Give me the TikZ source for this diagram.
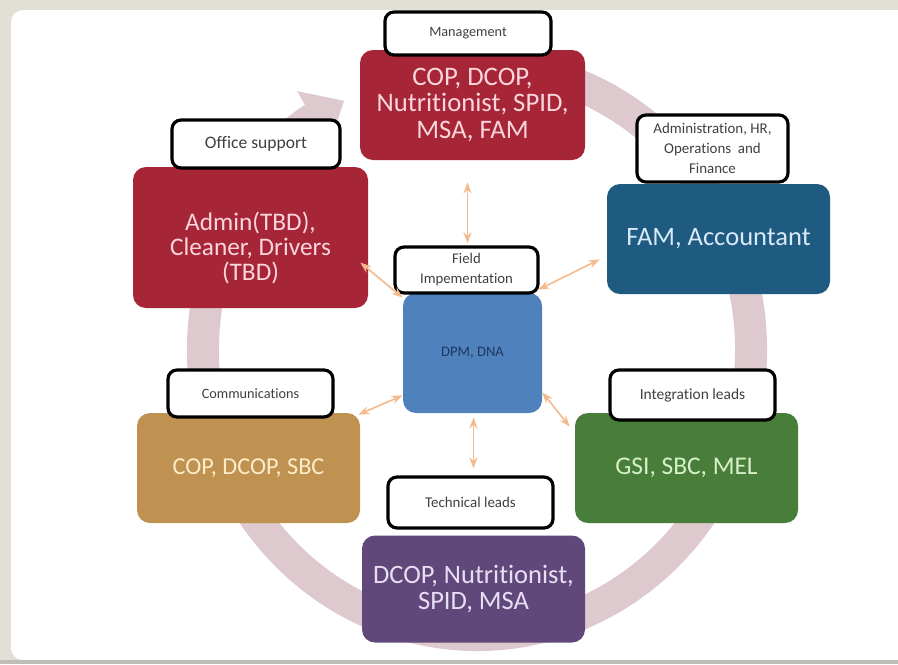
\documentclass[tikz,border=0pt]{standalone}
\usepackage{fontspec}
\setmainfont{Carlito}[Ligatures=NoCommon]
\usetikzlibrary{arrows.meta,calc}
\newlength\pxu
\setlength\pxu{0.02cm}

\definecolor{framebg}{RGB}{226,224,214}
\definecolor{frameline}{RGB}{190,190,182}
\definecolor{ringcol}{RGB}{221,201,206}
\definecolor{redbox}{RGB}{166,37,54}
\definecolor{redtxt}{RGB}{250,214,220}
\definecolor{bluebox}{RGB}{31,90,128}
\definecolor{bluetxt}{RGB}{214,234,248}
\definecolor{dpmbox}{RGB}{79,129,189}
\definecolor{dpmtxt}{RGB}{31,56,100}
\definecolor{tanbox}{RGB}{191,146,82}
\definecolor{tantxt}{RGB}{253,236,200}
\definecolor{greenbox}{RGB}{72,125,58}
\definecolor{greentxt}{RGB}{214,240,200}
\definecolor{purplebox}{RGB}{96,73,122}
\definecolor{purpletxt}{RGB}{232,222,244}
\definecolor{conncol}{RGB}{245,186,140}
\definecolor{labtxt}{RGB}{64,64,64}

\newcommand\rolefont[1]{\fontsize{#1}{14.4}\selectfont}
\newcommand\tagfont[1]{\fontsize{#1}{11.4}\selectfont}

\tikzset{
  rolebox/.style={draw=none, rounded corners=13\pxu, align=center,
    inner sep=0pt},
  tagbox/.style={draw=black, fill=white, line width=3.2\pxu,
    rounded corners=9\pxu, align=center, inner sep=0pt,
    text=labtxt, font=\tagfont{8.5}},
  link/.style={draw=conncol, line width=0.9pt,
    {Stealth[length=6.3pt,width=4.6pt]}-{Stealth[length=6.3pt,width=4.6pt]}},
  cycle ring/.style={draw=ringcol, line width=18.2pt,
    -{Triangle[length=20.5pt,width=35pt]}}
}

\begin{document}
\begin{tikzpicture}[x=1\pxu, y=-1\pxu]
\useasboundingbox (0,0) rectangle (898,664);

% slide frame
\fill[framebg] (0,0) rectangle (898,664);
\fill[white, rounded corners=12\pxu] (11,10) rectangle (930,660);
\fill[frameline] (0,660) rectangle (898,664);

% circular flow ring behind the boxes
\draw[cycle ring] (477,350) ++(-80:274 and 285)
  arc[start angle=-80, end angle=241, x radius=274, y radius=285];

% role boxes
\node[rolebox, fill=redbox, text=redtxt, font=\fontsize{15.2}{15}\selectfont,
  minimum width=225\pxu, minimum height=110\pxu]
  (mgmt) at (472.5,105) {COP, DCOP,\\Nutritionist, SPID,\\MSA, FAM};
\node[rolebox, fill=redbox, minimum width=235\pxu, minimum height=141\pxu]
  (admin) at (250.5,237.5) {};
\node[align=center, inner sep=0pt, text=redtxt, font=\rolefont{14.4}]
  (admintxt) at (250.5,248) {Admin(TBD),\\Cleaner, Drivers\\(TBD)};
\node[rolebox, fill=bluebox, text=bluetxt, font=\rolefont{15.1},
  minimum width=223\pxu, minimum height=110\pxu]
  (fam) at (718.5,239) {FAM, Accountant};
\node[rolebox, fill=dpmbox, text=dpmtxt, font=\fontsize{8.3}{10}\selectfont,
  minimum width=139\pxu, minimum height=120\pxu]
  (dpm) at (472.5,353) {DPM, DNA};
\node[rolebox, fill=tanbox, text=tantxt, font=\rolefont{13.8},
  minimum width=223\pxu, minimum height=110\pxu]
  (comm) at (248.5,468) {COP, DCOP, SBC};
\node[rolebox, fill=greenbox, text=greentxt, font=\rolefont{14.5},
  minimum width=223\pxu, minimum height=110\pxu]
  (integ) at (686.5,468) {GSI, SBC, MEL};
\node[rolebox, fill=purplebox, text=purpletxt, font=\rolefont{15.1},
  minimum width=223\pxu, minimum height=107\pxu]
  (tech) at (473.5,589) {DCOP, Nutritionist,\\SPID, MSA};

% tags
\node[tagbox, font=\tagfont{8.1}, minimum width=166\pxu, minimum height=43\pxu]
  (mgmtlab) at (468,33.5) {Management};
\node[tagbox, font=\tagfont{10}, minimum width=168\pxu, minimum height=48\pxu]
  (adminlab) at (256,144) {Office support};
\node[tagbox, minimum width=151\pxu, minimum height=67\pxu]
  (famlab) at (712.5,148.5) {Administration, HR,\\Operations\ \ and\\Finance};
\node[tagbox, font=\tagfont{8.4}, minimum width=143\pxu, minimum height=46\pxu]
  (dpmlab) at (466.5,270) {Field\\Impementation};
\node[tagbox, font=\tagfont{8.1}, minimum width=165\pxu, minimum height=47\pxu]
  (commlab) at (250.5,393.5) {Communications};
\node[tagbox, font=\tagfont{8.8}, minimum width=165\pxu, minimum height=50\pxu]
  (integlab) at (692.5,395) {Integration leads};
\node[tagbox, font=\tagfont{8.5}, minimum width=165\pxu, minimum height=51\pxu]
  (techlab) at (470.5,502.5) {Technical leads};

% links between the field team and the other groups
\draw[link] ([shift={(-5,22)}]mgmt.south) -- ([shift={(1,-2)}]dpmlab.north);
\draw[link] ([shift={(-8,25)}]admin.east) -- ([shift={(0,5)}]dpm.north west);
\draw[link] ([shift={(-7,-35)}]fam.south west) -- ([shift={(-4,-3)}]dpm.north east);
\draw[link] ([shift={(-2,2)}]comm.north east) -- ([shift={(0,-18)}]dpm.south west);
\draw[link] ([shift={(0,-21)}]dpm.south east) -- ([shift={(-5,14)}]integ.north west);
\draw[link] ([shift={(1,4)}]dpm.south) -- ([shift={(3,-7)}]techlab.north);
\end{tikzpicture}
\end{document}
